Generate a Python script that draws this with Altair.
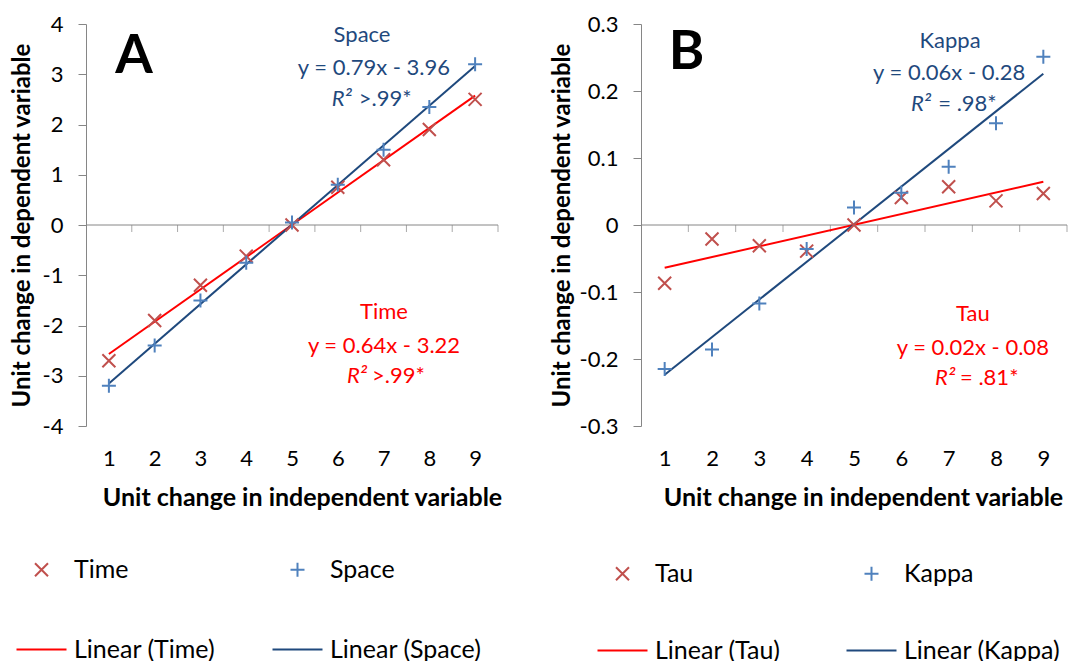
import altair as alt
import numpy as np
import pandas as pd

# ---------------- data ----------------
x_vals = [1, 2, 3, 4, 5, 6, 7, 8, 9]
time_vals = [-2.7, -1.9, -1.2, -0.62, 0.0, 0.75, 1.3, 1.9, 2.5]
space_vals = [-3.2, -2.4, -1.5, -0.75, 0.05, 0.8, 1.5, 2.35, 3.2]
tau_vals = [-0.087, -0.021, -0.031, -0.039, 0.0, 0.041, 0.057, 0.036, 0.047]
kappa_vals = [-0.215, -0.186, -0.117, -0.036, 0.026, 0.048, 0.087, 0.152, 0.251]
x_boundaries = [1.5, 2.5, 3.5, 4.5, 5.5, 6.5, 7.5, 8.5, 9.5]
y_ticks_a = [-4, -3, -2, -1, 0, 1, 2, 3, 4]
y_ticks_b = [-0.3, -0.2, -0.1, 0, 0.1, 0.2, 0.3]

# annotation texts
ann_a = {
    "blue_center": [("Space", 6.53, 3.78), ("y = 0.79x - 3.96", 6.79, 3.12)],
    "blue_r2": ("R\u00b2", 6.31, ">.99*", 6.46, 2.51),
    "red_center": [("Time", 7.01, -1.73), ("y = 0.64x - 3.22", 7.01, -2.41)],
    "red_r2": ("R\u00b2", 6.64, ">.99*", 6.75, -3.0),
    "letter": ("A", 1.55, 3.02),
}
ann_b = {
    "blue_center": [("Kappa", 7.03, 0.275), ("y = 0.06x - 0.28", 7.01, 0.227)],
    "blue_r2": ("R\u00b2", 6.63, "= .98*", 6.78, 0.181),
    "red_center": [("Tau", 7.51, -0.133), ("y = 0.02x - 0.08", 7.51, -0.184)],
    "red_r2": ("R\u00b2", 7.14, "= .81*", 7.24, -0.229),
    "letter": ("B", 1.46, 0.233),
}

FONT = "Lato"
GRAY = "#868686"
MARKER_RED = "#C0504D"
MARKER_BLUE = "#4F81BD"
LINE_RED = "#FF0000"
LINE_BLUE = "#1F497D"
TEXT_BLUE = "#1F497D"

X_PATH = "M-0.65,-0.65L0.65,0.65M-0.65,0.65L0.65,-0.65"
PLUS_PATH = "M-0.7,0L0.7,0M0,-0.7L0,0.7"
LINE_PATH = "M-2.5,0L2.5,0"


def fit_line(name, vals):
    slope, icpt = np.polyfit(np.array(x_vals, dtype=float), np.array(vals, dtype=float), 1)
    xs = [float(min(x_vals)), float(max(x_vals))]
    return pd.DataFrame({
        "x": xs,
        "y": [slope * v + icpt for v in xs],
        "series": [f"Linear ({name})"] * 2,
    })


def panel(name_a, vals_a, name_b, vals_b, y_dom, y_ticks, width, ann,
          title_pad_y, title_x_x, legend_x, legend_y, row_pad, col_pad):
    df = pd.DataFrame({
        "x": x_vals * 2,
        "y": list(vals_a) + list(vals_b),
        "series": [name_a] * 9 + [name_b] * 9,
    })
    ldf = pd.concat([fit_line(name_a, vals_a), fit_line(name_b, vals_b)], ignore_index=True)
    domain = [name_a, name_b, f"Linear ({name_a})", f"Linear ({name_b})"]
    cscale = alt.Scale(domain=domain, range=[MARKER_RED, MARKER_BLUE, LINE_RED, LINE_BLUE])
    sscale = alt.Scale(domain=domain, range=[X_PATH, PLUS_PATH, LINE_PATH, LINE_PATH])
    leg = alt.Legend(
        title=None, orient="none", legendX=legend_x, legendY=legend_y,
        columns=2, direction="horizontal",
        labelFont=FONT, labelFontSize=25, labelColor="black",
        symbolSize=400, symbolStrokeWidth=2, symbolOpacity=1, labelOffset=20,
        rowPadding=row_pad, columnPadding=col_pad, labelLimit=300,
    )
    xscale = alt.Scale(domain=[0.5, 9.5], nice=False, zero=False)
    yscale = alt.Scale(domain=y_dom, nice=False, zero=False)
    xaxis = alt.Axis(
        values=x_vals, labelExpr="'' + datum.value", domain=False, ticks=False,
        grid=False, labelFont=FONT, labelFontSize=22, labelColor="black",
        labelPadding=22, title="Unit change in independent variable",
        titleFont=FONT, titleFontSize=25, titleFontWeight="bold",
        titleColor="black", titlePadding=16, titleX=title_x_x,
    )
    yaxis = alt.Axis(
        values=y_ticks, labelExpr="'' + datum.value", grid=False,
        domainColor=GRAY, tickColor=GRAY, tickSize=8,
        labelFont=FONT, labelFontSize=22, labelColor="black", labelPadding=15,
        title="Unit change in dependent variable",
        titleFont=FONT, titleFontSize=24, titleFontWeight="bold",
        titleColor="black", titlePadding=title_pad_y,
    )

    pts = alt.Chart(df).mark_point(filled=False, size=400, strokeWidth=2, opacity=1).encode(
        x=alt.X("x:Q", scale=xscale, axis=xaxis),
        y=alt.Y("y:Q", scale=yscale, axis=yaxis),
        color=alt.Color("series:N", scale=cscale, legend=leg),
        shape=alt.Shape("series:N", scale=sscale, legend=leg),
    )
    lines = alt.Chart(ldf).mark_line(strokeWidth=2).encode(
        x="x:Q", y="y:Q",
        color=alt.Color("series:N", scale=cscale, legend=leg),
    )
    zero = alt.Chart(pd.DataFrame({"a": [0]})).mark_rule(color=GRAY, strokeWidth=1).encode(
        x=alt.datum(0.5), x2=alt.datum(9.5), y=alt.datum(0)
    )
    ticks = alt.Chart(pd.DataFrame({"b": x_boundaries, "z": [0] * len(x_boundaries)})).mark_tick(
        orient="vertical", size=7, thickness=1, yOffset=3.5, color=GRAY
    ).encode(x="b:Q", y="z:Q")

    texts = []

    def tl(rows, color, align, italic=False, bold=False, size=22, baseline="middle"):
        d = pd.DataFrame(rows, columns=["t", "tx", "ty"])
        m = alt.Chart(d).mark_text(
            font=FONT, fontSize=size, color=color, align=align, baseline=baseline,
            fontStyle="italic" if italic else "normal",
            fontWeight="bold" if bold else "normal",
        ).encode(x="tx:Q", y="ty:Q", text="t:N")
        texts.append(m)

    tl(ann["blue_center"], TEXT_BLUE, "center")
    r = ann["blue_r2"]
    tl([(r[0], r[1], r[4])], TEXT_BLUE, "right", italic=True)
    tl([(r[2], r[3], r[4])], TEXT_BLUE, "left")
    tl(ann["red_center"], LINE_RED, "center")
    r = ann["red_r2"]
    tl([(r[0], r[1], r[4])], LINE_RED, "right", italic=True)
    tl([(r[2], r[3], r[4])], LINE_RED, "left")
    L = ann["letter"]
    tl([L], "black", "center", bold=True, size=54, baseline="alphabetic")

    return alt.layer(zero, ticks, lines, pts, *texts).properties(width=width, height=402)


pa = panel("Time", time_vals, "Space", space_vals, [-4, 4], y_ticks_a, 412, ann_a,
           8, 216, -57, 533, 54, 52)
pb = panel("Tau", tau_vals, "Kappa", kappa_vals, [-0.3, 0.3], y_ticks_b, 426, ann_b,
           5, 222, -31, 537, 51, 61)

chart = alt.hconcat(pa, pb, spacing=47).resolve_scale(
    color="independent", shape="independent", x="independent", y="independent"
).resolve_legend(color="independent", shape="independent").properties(
    padding={"left": 2, "top": 5, "right": 0, "bottom": 0}
).configure_view(stroke=None)

chart.save("out.html", embed_options={"renderer": "svg", "actions": False})
